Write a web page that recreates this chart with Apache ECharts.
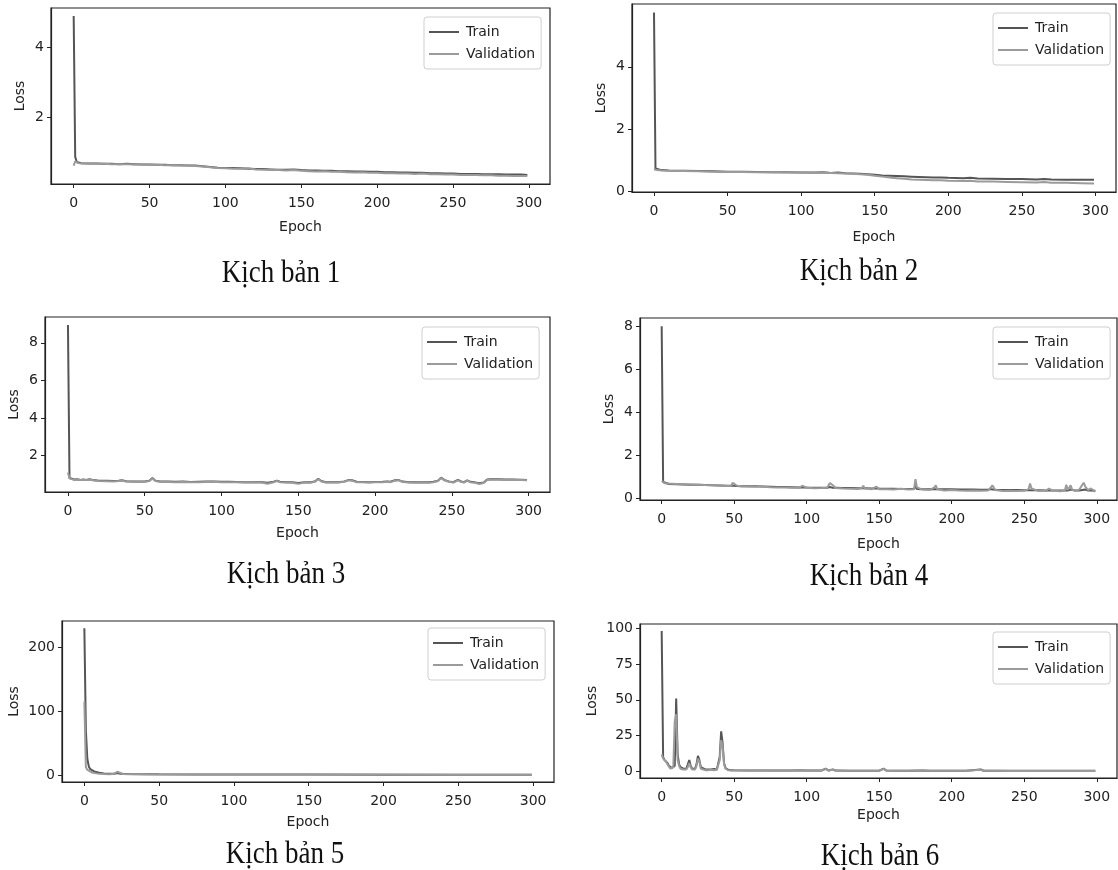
<!DOCTYPE html>
<html><head><meta charset="utf-8">
<script src="https://cdn.jsdelivr.net/npm/echarts@6/dist/echarts.min.js"></script>
<style>html,body{margin:0;padding:0;background:#fff}#c{width:1118px;height:870px}</style>
</head><body><div id="c"></div>
<script>
// ---------------- DATA ----------------
const seriesNames = ['Train', 'Validation'];
const titles = ['Kịch bản 1', 'Kịch bản 2', 'Kịch bản 3', 'Kịch bản 4', 'Kịch bản 5', 'Kịch bản 6'];
const xTicks = [0, 50, 100, 150, 200, 250, 300];
const yTicks1 = [2, 4];
const yTicks2 = [0, 2, 4];
const yTicks3 = [2, 4, 6, 8];
const yTicks4 = [0, 2, 4, 6, 8];
const yTicks5 = [0, 100, 200];
const yTicks6 = [0, 25, 50, 75, 100];

const train1 = [[0,4.9],[1,0.85],[2,0.70],[3,0.68],[5,0.67],[10,0.66],[15,0.66],[20,0.65],[25,0.65],[30,0.64],[35,0.65],[40,0.64],[45,0.63],[50,0.63],[55,0.62],[60,0.62],[65,0.61],[70,0.61],[75,0.60],[80,0.60],[85,0.58],[90,0.56],[95,0.54],[100,0.53],[105,0.53],[110,0.52],[115,0.51],[120,0.50],[125,0.50],[130,0.49],[135,0.48],[140,0.48],[145,0.49],[150,0.47],[155,0.46],[160,0.46],[165,0.45],[170,0.45],[175,0.44],[180,0.44],[185,0.43],[190,0.43],[195,0.42],[200,0.42],[205,0.41],[210,0.41],[215,0.40],[220,0.40],[225,0.39],[230,0.39],[235,0.38],[240,0.38],[245,0.37],[250,0.37],[255,0.36],[260,0.36],[265,0.36],[270,0.35],[275,0.35],[280,0.35],[285,0.34],[290,0.34],[295,0.34],[299,0.33]];
const val1 = [[0,0.60],[1,0.72],[2,0.68],[3,0.67],[5,0.66],[10,0.66],[15,0.65],[20,0.65],[25,0.64],[30,0.64],[35,0.64],[40,0.63],[45,0.63],[50,0.62],[55,0.62],[60,0.61],[65,0.61],[70,0.60],[75,0.60],[80,0.59],[85,0.57],[90,0.55],[95,0.53],[100,0.52],[105,0.51],[110,0.51],[115,0.52],[120,0.49],[125,0.48],[130,0.47],[135,0.47],[140,0.46],[145,0.47],[150,0.45],[155,0.44],[160,0.43],[165,0.44],[170,0.42],[175,0.42],[180,0.41],[185,0.40],[190,0.41],[195,0.39],[200,0.39],[205,0.38],[210,0.38],[215,0.37],[220,0.37],[225,0.36],[230,0.37],[235,0.35],[240,0.35],[245,0.34],[250,0.34],[255,0.33],[260,0.33],[265,0.33],[270,0.32],[275,0.32],[280,0.31],[285,0.31],[290,0.30],[295,0.30],[299,0.30]];

const train2 = [[0,5.75],[1,0.72],[2,0.68],[5,0.67],[10,0.66],[20,0.65],[30,0.64],[40,0.63],[50,0.62],[60,0.62],[70,0.61],[80,0.60],[90,0.60],[100,0.59],[110,0.59],[115,0.60],[120,0.58],[125,0.59],[130,0.57],[135,0.56],[140,0.55],[145,0.54],[150,0.52],[155,0.50],[160,0.49],[165,0.48],[170,0.47],[175,0.46],[180,0.45],[185,0.44],[190,0.43],[195,0.43],[200,0.42],[210,0.41],[215,0.42],[220,0.40],[230,0.39],[240,0.38],[250,0.38],[260,0.37],[265,0.38],[270,0.37],[280,0.36],[290,0.36],[299,0.36]];
const val2 = [[0,0.70],[1,0.68],[2,0.67],[5,0.66],[10,0.65],[20,0.64],[30,0.63],[40,0.62],[50,0.61],[60,0.61],[70,0.60],[80,0.60],[90,0.59],[100,0.59],[110,0.58],[115,0.59],[120,0.58],[125,0.57],[130,0.56],[135,0.55],[140,0.54],[145,0.52],[150,0.49],[155,0.46],[160,0.43],[165,0.41],[170,0.39],[175,0.37],[180,0.36],[185,0.35],[190,0.34],[195,0.34],[200,0.33],[210,0.32],[215,0.33],[220,0.30],[230,0.30],[240,0.29],[250,0.28],[260,0.27],[265,0.29],[270,0.26],[280,0.26],[290,0.25],[299,0.24]];

const train3 = [[0,8.95],[1,0.80],[2,0.74],[4,0.72],[6,0.74],[8,0.70],[10,0.72],[12,0.70],[14,0.74],[16,0.70],[18,0.68],[20,0.66],[25,0.65],[30,0.64],[33,0.66],[34,0.72],[35,0.68],[38,0.63],[42,0.62],[46,0.61],[50,0.62],[53,0.66],[55,0.80],[57,0.66],[60,0.62],[65,0.61],[70,0.60],[75,0.61],[80,0.59],[85,0.60],[90,0.61],[95,0.62],[100,0.60],[105,0.60],[110,0.59],[115,0.58],[120,0.58],[125,0.59],[130,0.55],[134,0.60],[136,0.66],[138,0.60],[142,0.58],[146,0.57],[150,0.54],[154,0.58],[158,0.57],[161,0.63],[163,0.76],[165,0.64],[168,0.58],[172,0.59],[176,0.58],[180,0.62],[183,0.70],[185,0.68],[188,0.60],[192,0.59],[196,0.58],[200,0.59],[205,0.60],[208,0.62],[210,0.60],[213,0.68],[215,0.70],[218,0.61],[222,0.58],[226,0.57],[230,0.58],[235,0.57],[238,0.60],[241,0.66],[243,0.82],[245,0.70],[248,0.62],[251,0.58],[254,0.70],[256,0.62],[258,0.58],[260,0.68],[262,0.60],[265,0.57],[268,0.52],[271,0.57],[273,0.72],[275,0.73],[280,0.73],[285,0.72],[290,0.72],[295,0.71],[299,0.70]];
const val3 = [[0,1.10],[1,0.78],[2,0.72],[4,0.70],[6,0.72],[8,0.69],[10,0.70],[12,0.69],[14,0.72],[16,0.68],[18,0.66],[20,0.64],[25,0.63],[30,0.62],[33,0.64],[34,0.70],[35,0.66],[38,0.61],[42,0.60],[46,0.59],[50,0.60],[53,0.64],[55,0.78],[57,0.64],[60,0.60],[65,0.59],[70,0.58],[75,0.59],[80,0.57],[85,0.58],[90,0.59],[95,0.60],[100,0.58],[105,0.58],[110,0.57],[115,0.56],[120,0.56],[125,0.57],[130,0.50],[134,0.58],[136,0.64],[138,0.58],[142,0.56],[146,0.55],[150,0.49],[154,0.56],[158,0.55],[161,0.61],[163,0.74],[165,0.62],[168,0.56],[172,0.57],[176,0.56],[180,0.60],[183,0.68],[185,0.66],[188,0.58],[192,0.57],[196,0.56],[200,0.57],[205,0.58],[208,0.60],[210,0.58],[213,0.66],[215,0.68],[218,0.59],[222,0.56],[226,0.55],[230,0.56],[235,0.55],[238,0.58],[241,0.64],[243,0.80],[245,0.68],[248,0.60],[251,0.56],[254,0.68],[256,0.60],[258,0.56],[260,0.66],[262,0.58],[265,0.55],[268,0.48],[271,0.55],[273,0.70],[275,0.71],[280,0.71],[285,0.70],[290,0.70],[295,0.69],[299,0.68]];

const train4 = [[0,8.0],[1,0.75],[2,0.68],[5,0.66],[10,0.65],[15,0.64],[20,0.63],[25,0.62],[30,0.61],[35,0.60],[40,0.59],[45,0.58],[48,0.58],[49,0.60],[50,0.58],[52,0.57],[55,0.56],[60,0.55],[65,0.55],[68,0.54],[70,0.54],[75,0.53],[80,0.52],[85,0.52],[90,0.51],[95,0.50],[97,0.51],[100,0.50],[105,0.49],[110,0.49],[114,0.48],[116,0.52],[118,0.48],[120,0.48],[125,0.47],[130,0.47],[135,0.46],[138,0.46],[139,0.48],[140,0.46],[145,0.45],[148,0.46],[150,0.45],[155,0.44],[160,0.44],[165,0.43],[170,0.43],[174,0.43],[175,0.55],[176,0.43],[180,0.42],[185,0.42],[188,0.42],[189,0.45],[190,0.42],[195,0.41],[200,0.41],[205,0.40],[210,0.40],[215,0.40],[220,0.39],[225,0.39],[227,0.42],[228,0.39],[230,0.39],[235,0.38],[240,0.38],[245,0.38],[250,0.37],[253,0.37],[254,0.45],[255,0.37],[260,0.37],[265,0.36],[267,0.36],[268,0.40],[270,0.36],[275,0.36],[278,0.36],[279,0.42],[280,0.36],[282,0.40],[283,0.36],[285,0.36],[288,0.36],[290,0.38],[291,0.45],[292,0.40],[294,0.36],[296,0.36],[299,0.35]];
const val4 = [[0,0.80],[1,0.72],[2,0.70],[5,0.68],[10,0.66],[15,0.65],[20,0.64],[25,0.63],[30,0.61],[35,0.60],[40,0.59],[45,0.57],[48,0.58],[49,0.72],[50,0.66],[52,0.58],[55,0.55],[60,0.54],[65,0.53],[68,0.57],[70,0.53],[75,0.51],[80,0.50],[85,0.50],[90,0.48],[95,0.49],[97,0.58],[100,0.48],[105,0.46],[110,0.47],[114,0.48],[116,0.70],[118,0.60],[120,0.47],[125,0.45],[130,0.44],[135,0.43],[138,0.46],[139,0.58],[140,0.45],[145,0.42],[148,0.54],[150,0.42],[155,0.41],[160,0.40],[165,0.44],[170,0.40],[174,0.42],[175,0.88],[176,0.50],[180,0.40],[185,0.38],[188,0.50],[189,0.60],[190,0.42],[195,0.36],[200,0.38],[205,0.36],[210,0.35],[215,0.36],[220,0.34],[225,0.36],[227,0.50],[228,0.60],[230,0.38],[235,0.33],[240,0.35],[245,0.33],[250,0.34],[253,0.42],[254,0.68],[255,0.45],[260,0.33],[265,0.34],[267,0.45],[268,0.52],[270,0.34],[275,0.32],[278,0.36],[279,0.62],[280,0.38],[282,0.60],[283,0.40],[285,0.34],[288,0.40],[290,0.62],[291,0.72],[292,0.55],[294,0.38],[296,0.45],[299,0.30]];

const train5 = [[0,230],[1,70],[2,25],[3,13],[4,9],[5,7],[7,5],[10,3.5],[13,2.5],[16,2],[20,2],[22,3],[24,2],[30,1.5],[40,1.2],[50,1],[75,0.8],[100,0.7],[150,0.6],[200,0.5],[250,0.5],[299,0.45]];
const val5 = [[0,115],[1,12],[2,8],[3,6],[5,4],[8,2.5],[10,2],[13,1.5],[17,1],[20,2],[22,5],[23,2.5],[26,1.5],[30,1.2],[40,1],[50,0.9],[75,0.8],[100,0.7],[150,0.6],[200,0.55],[250,0.5],[299,0.5]];

const train6 = [[0,98],[1,10],[2,8],[3,9],[4,6],[5,4],[6,3],[7,2.5],[8,2.5],[9,4],[10,51],[11,12],[12,5],[13,3],[14,2.5],[15,2],[16,2],[17,2],[18,2.5],[19,8],[20,4],[21,2],[22,2],[23,2],[24,5],[25,11],[26,8],[27,3],[28,2],[30,1.5],[32,1.5],[34,1.5],[36,1.8],[38,1.5],[39,2],[40,10],[41,28],[42,20],[43,6],[44,2.5],[45,1.5],[46,1.2],[48,1],[50,0.9],[60,0.8],[70,0.8],[80,0.7],[90,0.8],[95,1],[100,0.7],[110,0.7],[113,2],[115,0.8],[118,1.5],[120,0.7],[130,0.6],[140,0.6],[150,0.6],[153,2],[155,0.7],[160,0.6],[170,0.6],[180,0.8],[185,0.6],[190,0.6],[200,0.6],[210,0.6],[220,1.5],[222,0.6],[230,0.6],[240,0.5],[250,0.5],[260,0.5],[270,0.5],[280,0.5],[290,0.5],[299,0.5]];
const val6 = [[0,12],[1,9],[2,8],[3,7],[4,5],[5,4],[6,2],[7,1.5],[8,3],[9,35],[10,40],[11,8],[12,4],[13,2],[14,1.5],[15,1.5],[16,1.5],[17,1.5],[18,3],[19,6],[20,3],[21,1.5],[22,1.5],[23,1.5],[24,4],[25,9],[26,7],[27,2],[28,1.5],[30,1],[32,1],[34,1.2],[36,1],[38,1.2],[39,1.5],[40,8],[41,22],[42,18],[43,5],[44,2],[45,1],[46,0.9],[48,0.8],[50,0.7],[60,0.7],[70,0.7],[80,0.6],[90,0.7],[95,0.9],[100,0.6],[110,0.6],[113,1.8],[115,0.7],[118,1.2],[120,0.6],[130,0.5],[140,0.5],[150,0.5],[153,1.8],[155,0.6],[160,0.5],[170,0.5],[180,0.7],[185,0.5],[190,0.5],[200,0.5],[210,0.5],[220,1.2],[222,0.5],[230,0.5],[240,0.4],[250,0.4],[260,0.4],[270,0.4],[280,0.4],[290,0.4],[299,0.4]];

// ---------------- LAYOUT ----------------
const panels = [
  {tr: train1, va: val1, yt: yTicks1, g: {l: 51, t: 8, w: 499, h: 176}, lg: [424, 17], ttl: [281, 274], yGap: 24, xGap: 36},
  {tr: train2, va: val2, yt: yTicks2, g: {l: 632, t: 4, w: 484, h: 188}, lg: [993, 13], ttl: [859, 272], yGap: 24, xGap: 38},
  {tr: train3, va: val3, yt: yTicks3, g: {l: 45, t: 317, w: 505, h: 175}, lg: [422, 327], ttl: [286, 575], yGap: 24, xGap: 34},
  {tr: train4, va: val4, yt: yTicks4, g: {l: 640, t: 318, w: 477, h: 182}, lg: [993, 327], ttl: [869, 577], yGap: 24, xGap: 37},
  {tr: train5, va: val5, yt: yTicks5, g: {l: 62, t: 621, w: 492, h: 161}, lg: [428, 628], ttl: [285, 855], yGap: 41, xGap: 33},
  {tr: train6, va: val6, yt: yTicks6, g: {l: 640, t: 624, w: 477, h: 154}, lg: [993, 632], ttl: [880, 857], yGap: 41, xGap: 30}
];

const TICK_FONT = 'DejaVu Sans';
const FS = 14;
const C_TRAIN = '#555555', C_VAL = '#9b9b9b', C_AX = '#222';

function limits(a, b) {
  let mn = Infinity, mx = -Infinity;
  [a, b].forEach(s => s.forEach(p => { mn = Math.min(mn, p[1]); mx = Math.max(mx, p[1]); }));
  const pad = (mx - mn) * 0.05;
  return [mn - pad, mx + pad];
}

const grid = [], xAxis = [], yAxis = [], series = [], legend = [], graphic = [];
panels.forEach((p, i) => {
  grid.push({left: p.g.l, top: p.g.t, width: p.g.w, height: p.g.h, show: true,
    borderColor: C_AX, borderWidth: 1.2, backgroundColor: '#fff'});
  xAxis.push({type: 'value', gridIndex: i, min: -14.95, max: 313.95,
    name: 'Epoch', nameLocation: 'middle', nameGap: p.xGap,
    nameTextStyle: {fontFamily: TICK_FONT, fontSize: FS, color: '#222'},
    axisLine: {show: true, onZero: false, lineStyle: {color: C_AX, width: 1.2}},
    axisTick: {show: true, inside: false, length: 4, customValues: xTicks, lineStyle: {color: C_AX}},
    axisLabel: {customValues: xTicks, margin: 12, fontFamily: TICK_FONT, fontSize: FS, color: '#222'},
    splitLine: {show: false}});
  const yl = limits(p.tr, p.va);
  yAxis.push({type: 'value', gridIndex: i, min: yl[0], max: yl[1],
    name: 'Loss', nameLocation: 'middle', nameGap: p.yGap,
    nameTextStyle: {fontFamily: TICK_FONT, fontSize: FS, color: '#222'},
    axisLine: {show: true, onZero: false, lineStyle: {color: C_AX, width: 1.2}},
    axisTick: {show: true, inside: false, length: 4, customValues: p.yt, lineStyle: {color: C_AX}},
    axisLabel: {customValues: p.yt, margin: 7, fontFamily: TICK_FONT, fontSize: FS, color: '#222'},
    splitLine: {show: false}});
  series.push({name: seriesNames[0], type: 'line', xAxisIndex: i, yAxisIndex: i, data: p.tr,
    symbol: 'none', color: C_TRAIN, lineStyle: {color: C_TRAIN, width: 2}, z: 2});
  series.push({name: seriesNames[1], type: 'line', xAxisIndex: i, yAxisIndex: i, data: p.va,
    symbol: 'none', color: C_VAL, lineStyle: {color: C_VAL, width: 2}, z: 3});
  legend.push({data: seriesNames, left: p.lg[0], top: p.lg[1], orient: 'vertical',
    icon: 'rect', itemWidth: 30, itemHeight: 2, itemGap: 8, padding: [8, 6, 8, 5],
    borderColor: '#cfcfcf', borderWidth: 1, borderRadius: 3, backgroundColor: 'rgba(255,255,255,0.85)',
    selectedMode: false, textStyle: {fontFamily: TICK_FONT, fontSize: FS, color: '#222', padding: [0, 0, 0, 2]}});
  graphic.push({type: 'text', x: p.ttl[0], y: p.ttl[1], scaleY: 1.15,
    style: {text: titles[i], x: 0, y: 0, align: 'center', verticalAlign: 'middle',
      textAlign: 'center', textVerticalAlign: 'middle',
      font: '27px "Liberation Serif", "Times New Roman", serif', fill: '#111'}});
});

const chart = echarts.init(document.getElementById('c'), null, {renderer: 'canvas'});
chart.setOption({animation: false, backgroundColor: '#fff', grid, xAxis, yAxis, series, legend, graphic});
</script>
</body></html>
